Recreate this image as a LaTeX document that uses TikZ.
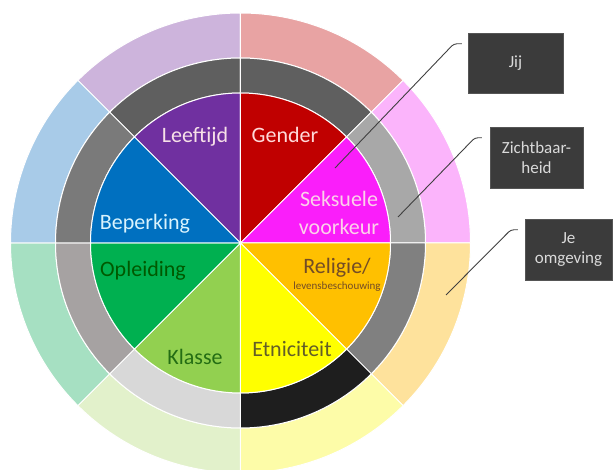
\documentclass[tikz,border=0pt]{standalone}
\usepackage{fontspec}
\setmainfont{Carlito}
\usetikzlibrary{positioning}

% outer ring
\definecolor{oPurple}{HTML}{CDB4DC}
\definecolor{oSalmon}{HTML}{E8A3A3}
\definecolor{oPink}{HTML}{FBB4FB}
\definecolor{oOrange}{HTML}{FEE29C}
\definecolor{oYellow}{HTML}{FDFCA8}
\definecolor{oPale}{HTML}{E2F1CB}
\definecolor{oMint}{HTML}{A6E0C2}
\definecolor{oBlue}{HTML}{A8CBE8}
% grey ring
\definecolor{gTop}{HTML}{5F5F5F}
\definecolor{gRightUp}{HTML}{A8A8A8}
\definecolor{gRightDown}{HTML}{808080}
\definecolor{gBlack}{HTML}{1E1E1E}
\definecolor{gLight}{HTML}{D8D8D8}
\definecolor{gLeftDown}{HTML}{A6A2A2}
\definecolor{gLeftUp}{HTML}{7A7A7A}
% pie
\definecolor{pPurple}{HTML}{7030A0}
\definecolor{pRed}{HTML}{C00000}
\definecolor{pMagenta}{HTML}{FA1EFA}
\definecolor{pOrange}{HTML}{FFC000}
\definecolor{pYellow}{HTML}{FFFF00}
\definecolor{pLime}{HTML}{92D050}
\definecolor{pGreen}{HTML}{00B050}
\definecolor{pBlue}{HTML}{0070C0}
% text and boxes
\definecolor{boxgray}{HTML}{3B3B3B}
\definecolor{boxedge}{HTML}{555555}
\definecolor{boxtext}{HTML}{DADADA}
\definecolor{linegray}{HTML}{404040}

\newcommand{\ringseg}[5]{\fill[#5, draw=white, line width=1pt] (#1:#3) arc[start angle=#1, end angle=#2, radius=#3] -- (#2:#4) arc[start angle=#2, end angle=#1, radius=#4] -- cycle;}
\newcommand{\pieseg}[3]{\fill[#3, draw=white, line width=1pt] (0,0) -- (#1:150) arc[start angle=#1, end angle=#2, radius=150] -- cycle;}

\begin{document}
\begin{tikzpicture}[
    x=1pt, y=1pt,
    slicetext/.style={anchor=base, inner sep=0pt, font=\fontsize{22}{28}\selectfont},
    infobox/.style={rectangle, fill=boxgray, draw=boxedge, text=boxtext, minimum width=95pt, minimum height=60pt, inner sep=0pt, align=center, font=\fontsize{17}{20}\selectfont},
    callout/.style={draw=linegray, line width=0.9pt, rounded corners=3pt}
]
\clip (-240.5,-227) rectangle (372.5,243);

% outer ring: je omgeving
\ringseg{90}{135}{230}{185}{oPurple}
\ringseg{45}{90}{230}{185}{oSalmon}
\ringseg{0}{45}{230}{185}{oPink}
\ringseg{-45}{0}{230}{185}{oOrange}
\ringseg{-90}{-45}{230}{185}{oYellow}
\ringseg{-135}{-90}{230}{185}{oPale}
\ringseg{180}{225}{230}{185}{oMint}
\ringseg{135}{180}{230}{185}{oBlue}

% grey ring: zichtbaarheid
\ringseg{90}{135}{185}{150}{gTop}
\ringseg{45}{90}{185}{150}{gTop}
\ringseg{0}{45}{185}{150}{gRightUp}
\ringseg{-45}{0}{185}{150}{gRightDown}
\ringseg{-90}{-45}{185}{150}{gBlack}
\ringseg{-135}{-90}{185}{150}{gLight}
\ringseg{180}{225}{185}{150}{gLeftDown}
\ringseg{135}{180}{185}{150}{gLeftUp}

% pie: jij
\pieseg{90}{135}{pPurple}
\pieseg{45}{90}{pRed}
\pieseg{0}{45}{pMagenta}
\pieseg{-45}{0}{pOrange}
\pieseg{-90}{-45}{pYellow}
\pieseg{-135}{-90}{pLime}
\pieseg{180}{225}{pGreen}
\pieseg{135}{180}{pBlue}

\node[slicetext, text=purple!12] (leeftijd) at (-45.5,100) {Leeftijd};
\node[slicetext, text=red!15] (gender) at (44.5,100) {Gender};
\node[slicetext, text=magenta!18, align=center] (seksueel) at (98.5,8) {Seksuele\\voorkeur};
\node[slicetext, text=cyan!15] (beperking) at (-95.5,13) {Beperking};
\node[slicetext, text=green!35!black] (opleiding) at (-97.5,-34) {Opleiding};
\node[slicetext, text=green!30!black!75!pLime] (klasse) at (-45.5,-122) {Klasse};
\node[slicetext, text=olive!60!black] (etniciteit) at (51.5,-114) {Etniciteit};
\node[slicetext, text=brown!60!black, align=center] (religie) at (96.5,-47) {Religie/\\[-12pt]{\fontsize{11}{13}\selectfont levensbeschouwing}};

\node[infobox] (jij) at (275,180) {Jij};
\node[infobox, minimum width=93pt, minimum height=61pt] (zicht) at (296,85.5) {Zichtbaar-\\heid};
\node[infobox, minimum width=87pt, minimum height=61pt] (omgeving) at (328,-6.5) {Je\\omgeving};

\coordinate (jijpt) at (94.5,75);
\coordinate (zichtpt) at (157.5,26);
\coordinate (omgevingpt) at (205.5,-52);

\draw[callout] (jijpt) -- ([xshift=-14pt,yshift=-11pt]jij.north west) -- ([xshift=-6pt,yshift=-11pt]jij.north west);
\draw[callout] (zichtpt) -- ([xshift=-15pt,yshift=-11pt]zicht.north west) -- ([xshift=-8pt,yshift=-11pt]zicht.north west);
\draw[callout] (omgevingpt) -- ([xshift=-14pt,yshift=-11pt]omgeving.north west) -- ([xshift=-7pt,yshift=-11pt]omgeving.north west);
\end{tikzpicture}
\end{document}
